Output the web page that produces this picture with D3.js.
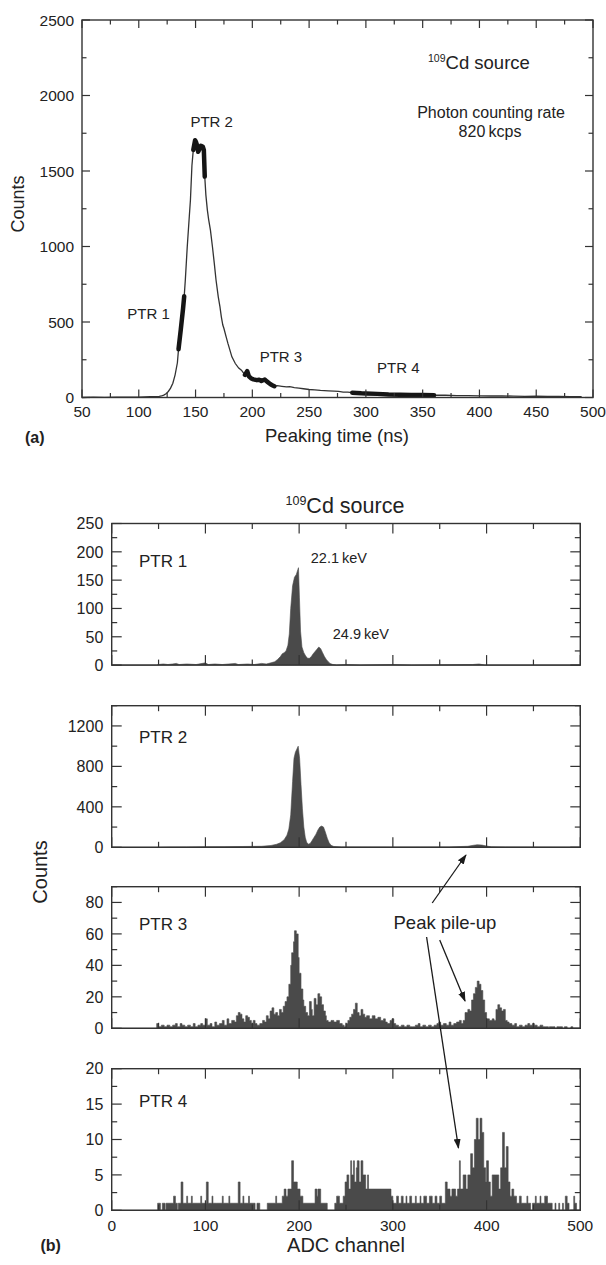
<!DOCTYPE html>
<html>
<head>
<meta charset="utf-8">
<script src="https://cdn.jsdelivr.net/npm/d3@7"></script>
<style>
  html, body { margin: 0; padding: 0; background: #fff; }
  svg { display: block; }
  text { font-family: "Liberation Sans", Arial, Helvetica, sans-serif; fill: #222; }
</style>
</head>
<body>
<svg id="fig" width="606" height="1265"></svg>
<script>
// ---------- (a) peaking-time distribution ----------
const peakTime = [50,60,70,80,90,100,105,110,115,118,120,122,124,126,128,130,132,134,135,137,139,140,141,142.7,144.5,145.5,146.8,148,149.6,150.5,151.3,152.3,153.5,154.7,156.4,157.3,158.1,159.1,160.4,161.5,163.1,165,166.5,168,170,171.5,172.7,174,175,177,178.5,180,182,185,188,190.4,192,193.5,195.5,197,199,201,204,206,208,211,213,216,218,219.4,222,226,230,233,237,241,245,250,255,260,267,272,276,280,284,288,292,296,300,310,320,330,340,350,360,370,380,390,400,410,420,430,440,450,460,470,480,490,500];
const peakCounts = [0,2,1,3,2,3,4,5,6,8,10,16,25,40,62,95,150,230,320,450,590,670,780,1000,1200,1310,1535,1640,1704,1690,1671,1627,1645,1667,1660,1640,1463,1340,1241,1180,1108,990,888,780,667,600,534,480,457,400,358,320,269,225,195,181,165,150,175,140,126,120,115,118,110,119,105,88,80,75,78,74,70,72,66,62,58,53,50,47,44,42,40,36,35,32,30,28,27,24,20,18,17,16,15,15,13,12,11,10,11,9,8,9,7,8,6,5];
// thick segments marking the four peaking-time ranges
const ptrRanges = [[135, 140], [147, 158.1], [193, 219.4], [288, 360]];
const ptrLabelsA = ["PTR 1", "PTR 2", "PTR 3", "PTR 4"];
const timeTicks = [50,100,150,200,250,300,350,400,450,500];
const countTicksA = [0,500,1000,1500,2000,2500];

// ---------- (b) pulse-height spectra, [ADC channel, counts] ----------
const spectrumPTR1 = [[0,0],[48,0],[50,1],[55,2],[60,1],[65,2],[69,3],[72,1],[80,2],[90,1],[100,4],[103,1],[110,2],[118,1],[125,2],[132,3],[135,1],[145,2],[152,1],[160,3],[165,2],[170,4],[174,6],[177,10],[180,15],[182,20],[184,22],[186,25],[188,35],[189.5,55],[191,100],[193,140],[195,155],[197,160],[198.5,168],[199.3,172],[200.3,120],[201.5,60],[203,32],[205,22],[207,16],[209,12],[211,12],[213,15],[215,20],[217,24],[219,28],[221,32],[223,29],[225,22],[227,15],[229,10],[231,6],[233,3],[236,1],[240,0],[250,1],[265,0],[300,1],[320,0],[385,1],[392,2],[398,0],[500,0]];
const spectrumPTR2 = [[0,0],[48,0],[60,3],[80,4],[100,5],[120,6],[140,8],[160,10],[170,18],[176,30],[180,45],[184,75],[187,120],[189,180],[191,320],[193,650],[194.5,880],[196,940],[197.5,970],[199,1000],[200.5,880],[202,620],[203.5,380],[205,200],[206.5,100],[208,50],[210,30],[212,40],[214,70],[216,100],[218,130],[220,170],[222,200],[224,210],[226,200],[228,150],[230,90],[232,45],[234,20],[237,8],[245,4],[300,3],[360,4],[380,10],[386,20],[390,25],[395,22],[400,12],[405,5],[420,4],[500,2]];
const spectrumPTR3 = [[0,0],[48,3],[50,1],[53,2],[56,1],[59,2],[62,1],[65,2],[68,3],[70,1],[73,3],[75,2],[78,1],[81,2],[84,1],[87,3],[89,1],[92,2],[95,3],[97,2],[100,6],[102,2],[105,3],[107,1],[110,4],[112,2],[115,3],[118,5],[120,2],[123,6],[125,3],[128,5],[131,4],[133,8],[135,10],[137,9],[139,6],[141,4],[143,8],[145,7],[147,5],[149,3],[151,5],[153,3],[155,2],[158,3],[161,5],[163,4],[165,8],[167,6],[169,11],[171,13],[173,9],[175,10],[177,8],[179,12],[181,10],[183,14],[185,17],[187,20],[189,28],[191,40],[192,48],[194,55],[195,62],[197,60],[199,45],[200,35],[202,25],[204,18],[205,14],[207,10],[209,8],[211,17],[213,12],[214,8],[216,19],[218,15],[220,22],[222,20],[224,15],[226,11],[228,8],[229,5],[231,4],[234,5],[237,4],[240,5],[243,3],[246,2],[248,1],[250,3],[252,5],[254,7],[256,9],[258,12],[260,16],[262,10],[264,8],[266,12],[268,9],[270,7],[272,8],[275,6],[278,8],[281,6],[284,7],[287,5],[290,6],[292,4],[294,3],[297,5],[299,6],[301,3],[303,2],[306,1],[309,2],[312,1],[315,2],[318,1],[321,1],[324,2],[327,3],[329,1],[332,2],[335,1],[338,2],[341,1],[344,2],[347,3],[349,4],[351,2],[354,3],[357,2],[360,4],[362,2],[365,3],[368,4],[371,5],[373,3],[375,5],[377,10],[380,12],[382,11],[384,18],[386,22],[388,26],[390,30],[392,28],[394,24],[396,18],[398,10],[400,6],[403,5],[406,6],[408,5],[410,12],[412,15],[414,13],[416,11],[418,12],[420,5],[422,4],[424,3],[427,2],[430,3],[432,1],[435,2],[438,1],[441,2],[444,3],[446,2],[449,3],[451,2],[454,1],[457,2],[460,1],[463,1],[466,0],[467,1],[470,1],[473,0],[475,1],[478,1],[481,0],[483,1],[486,0],[490,1],[492,0],[500,0]];
const spectrumPTR4 = [[0,0],[49,1],[52,0],[54,1],[57,0],[58,1],[66,2],[68,1],[70,0],[71,1],[74,4],[76,1],[80,2],[81,1],[85,2],[86,1],[90,1],[95,2],[96,1],[101,4],[103,1],[107,2],[108,1],[112,1],[118,2],[119,1],[125,2],[126,1],[130,1],[135,4],[137,1],[140,2],[141,1],[146,2],[147,1],[153,0],[155,1],[158,0],[166,1],[175,2],[176,1],[182,2],[184,3],[186,2],[188,3],[192,7],[194,4],[198,3],[201,2],[204,1],[212,1],[217,3],[219,2],[220,3],[223,1],[228,1],[230,0],[238,1],[240,2],[243,1],[247,2],[249,4],[251,5],[253,3],[255,7],[256,5],[258,7],[259,4],[261,6],[262,7],[264,4],[266,7],[268,5],[271,3],[273,5],[274,3],[280,3],[298,2],[300,1],[304,2],[306,1],[309,2],[311,1],[314,2],[315,1],[318,2],[320,1],[324,2],[325,1],[329,2],[330,1],[333,2],[336,1],[339,2],[342,1],[345,2],[347,1],[350,2],[352,1],[356,4],[358,3],[361,2],[363,3],[367,2],[369,3],[371,7],[372,3],[375,5],[378,3],[380,5],[383,8],[385,6],[387,10],[389,13],[391,10],[393,13],[395,11],[397,6],[399,4],[400,7],[402,4],[404,2],[406,5],[410,5],[413,3],[415,6],[417,11],[419,6],[421,9],[423,4],[425,2],[427,3],[429,2],[432,1],[435,2],[437,1],[440,1],[443,2],[444,1],[447,0],[449,1],[452,2],[453,1],[457,2],[458,1],[462,2],[465,1],[470,0],[473,1],[474,0],[477,1],[478,0],[481,1],[482,0],[484,2],[486,1],[488,0],[493,2],[494,1],[496,0],[500,0]];
const adcTicks = [0,100,200,300,400,500];
const panelNames = ["PTR 1", "PTR 2", "PTR 3", "PTR 4"];
const panelMax = [250, 1400, 90, 20];
const panelLabelTicks = [[0,50,100,150,200,250],[0,400,800,1200],[0,20,40,60,80],[0,5,10,15,20]];
const panelMinorStep = [25, 200, 10, 2.5];
const peakEnergies = ["22.1 keV", "24.9 keV"];

// ---------- drawing ----------
const svg = d3.select("#fig");
const AX = "#333";

function frameTicks(g, x, y, xMajor, xMinor, yMajor, yMinor, majLen, minLen) {
  const [x0, x1] = x.range();
  const [y0, y1] = y.range(); // y0 bottom, y1 top
  const tk = g.append("g").attr("stroke", AX).attr("stroke-width", 1.2);
  const vt = (v, len) => {
    tk.append("line").attr("x1", x(v)).attr("x2", x(v)).attr("y1", y0).attr("y2", y0 - len);
    tk.append("line").attr("x1", x(v)).attr("x2", x(v)).attr("y1", y1).attr("y2", y1 + len);
  };
  const ht = (v, len) => {
    tk.append("line").attr("y1", y(v)).attr("y2", y(v)).attr("x1", x0).attr("x2", x0 + len);
    tk.append("line").attr("y1", y(v)).attr("y2", y(v)).attr("x1", x1).attr("x2", x1 - len);
  };
  xMinor.forEach(v => vt(v, minLen));
  xMajor.forEach(v => vt(v, majLen));
  yMinor.forEach(v => ht(v, minLen));
  yMajor.forEach(v => ht(v, majLen));
  g.append("rect").attr("x", x0).attr("y", y1).attr("width", x1 - x0).attr("height", y0 - y1)
    .attr("fill", "none").attr("stroke", AX).attr("stroke-width", 1.4);
}

// ----- panel (a)
{
  const x = d3.scaleLinear().domain([50, 500]).range([82, 593]);
  const y = d3.scaleLinear().domain([0, 2500]).range([397.5, 20]);
  const g = svg.append("g");
  const pts = peakTime.map((t, i) => [t, peakCounts[i]]);
  const line = d3.line().x(d => x(d[0])).y(d => y(d[1]));

  g.append("path").datum(pts).attr("d", line)
    .attr("fill", "none").attr("stroke", "#333").attr("stroke-width", 1.3);

  ptrRanges.forEach(([a, b]) => {
    const seg = pts.filter(d => d[0] >= a && d[0] <= b);
    g.append("path").datum(seg).attr("d", line)
      .attr("fill", "none").attr("stroke", "#151515").attr("stroke-width", 4.5)
      .attr("stroke-linecap", "round").attr("stroke-linejoin", "round");
  });

  const minorX = d3.range(75, 500, 50);
  const minorY = d3.range(250, 2500, 500);
  frameTicks(g, x, y, timeTicks, minorX, countTicksA, minorY, 8, 4.5);

  g.selectAll(".xl").data(timeTicks).join("text")
    .attr("x", d => x(d)).attr("y", 416.5).attr("text-anchor", "middle")
    .attr("font-size", 15.5).text(d => d);
  g.selectAll(".yl").data(countTicksA).join("text")
    .attr("x", 74).attr("y", d => y(d)).attr("dy", "0.36em").attr("text-anchor", "end")
    .attr("font-size", 15.5).text(d => d);

  g.append("text").attr("x", 337).attr("y", 442).attr("text-anchor", "middle")
    .attr("font-size", 18.5).text("Peaking time (ns)");
  g.append("text").attr("transform", "translate(24,204) rotate(-90)").attr("text-anchor", "middle")
    .attr("font-size", 18).text("Counts");
  g.append("text").attr("x", 25).attr("y", 443).attr("font-size", 16).attr("font-weight", "bold").text("(a)");

  const lab = [[127.3, 318.8], [190.4, 126.5], [259.7, 361.6], [377, 373.3]];
  ptrLabelsA.forEach((s, i) => g.append("text").attr("x", lab[i][0]).attr("y", lab[i][1])
    .attr("font-size", 15).text(s));

  const t1 = g.append("text").attr("x", 428).attr("y", 69).attr("font-size", 18.5);
  t1.append("tspan").attr("font-size", 10.5).attr("dy", -7.5).text("109");
  t1.append("tspan").attr("dy", 7.5).text("Cd source");
  g.append("text").attr("x", 491).attr("y", 118).attr("text-anchor", "middle").attr("font-size", 16)
    .text("Photon counting rate");
  g.append("text").attr("x", 490).attr("y", 136.7).attr("text-anchor", "middle").attr("font-size", 16)
    .text("820\u2009kcps");
}

// ----- panel (b)
{
  const x = d3.scaleLinear().domain([0, 500]).range([111.7, 580.3]);
  const tops = [523.5, 705.7, 886.7, 1068.7];
  const H = 141.6;
  const spectra = [spectrumPTR1, spectrumPTR2, spectrumPTR3, spectrumPTR4];
  const curves = [d3.curveLinear, d3.curveLinear, d3.curveStepAfter, d3.curveStepAfter];
  const labelBase = [567.3, 743.3, 930, 1106.7];

  spectra.forEach((data, i) => {
    const y = d3.scaleLinear().domain([0, panelMax[i]]).range([tops[i] + H, tops[i]]);
    const g = svg.append("g");
    const area = d3.area().curve(curves[i]).x(d => x(d[0])).y0(y(0)).y1(d => y(d[1]));
    g.append("path").datum(data).attr("d", area).attr("fill", "#4a4a4a")
      .attr("stroke", "#4a4a4a").attr("stroke-width", 0.6);

    const minorY = d3.range(0, panelMax[i] + 0.001, panelMinorStep[i]).filter(v => !panelLabelTicks[i].includes(v));
    frameTicks(g, x, y, adcTicks, d3.range(50, 500, 100), panelLabelTicks[i], minorY, 10, 5.5);

    g.selectAll(".yl").data(panelLabelTicks[i]).join("text")
      .attr("x", 103.3).attr("y", d => y(d)).attr("dy", "0.36em").attr("text-anchor", "end")
      .attr("font-size", 16).text(d => d);
    g.append("text").attr("x", 139).attr("y", labelBase[i]).attr("font-size", 17).text(panelNames[i]);
  });

  svg.selectAll(".adc").data(adcTicks).join("text")
    .attr("x", d => x(d)).attr("y", 1230.7).attr("text-anchor", "middle")
    .attr("font-size", 15.5).text(d => d);
  svg.append("text").attr("x", 346).attr("y", 1251.5).attr("text-anchor", "middle")
    .attr("font-size", 20).text("ADC channel");
  svg.append("text").attr("transform", "translate(47,872) rotate(-90)").attr("text-anchor", "middle")
    .attr("font-size", 20).text("Counts");
  svg.append("text").attr("x", 40.5).attr("y", 1251).attr("font-size", 16).attr("font-weight", "bold").text("(b)");

  const t2 = svg.append("text").attr("x", 285.5).attr("y", 513.3).attr("font-size", 21.5);
  t2.append("tspan").attr("font-size", 12.5).attr("dy", -8.5).text("109");
  t2.append("tspan").attr("dy", 8.5).text("Cd source");

  svg.append("text").attr("x", 310.8).attr("y", 562.7).attr("font-size", 14.5).text(peakEnergies[0].replace(" ", "\u2009"));
  svg.append("text").attr("x", 332.8).attr("y", 639.3).attr("font-size", 14.5).text(peakEnergies[1].replace(" ", "\u2009"));

  // pile-up annotation with three arrows
  svg.append("text").attr("x", 393.5).attr("y", 929).attr("font-size", 18.5).text("Peak pile-up");
  const defs = svg.append("defs");
  defs.append("marker").attr("id", "ah").attr("viewBox", "0 0 10 10").attr("refX", 9).attr("refY", 5)
    .attr("markerWidth", 10).attr("markerHeight", 10).attr("markerUnits", "userSpaceOnUse")
    .attr("orient", "auto")
    .append("path").attr("d", "M0,1.5 L10,5 L0,8.5 Z").attr("fill", "#1a1a1a");
  const arrows = [
    [[x(342), 903], [x(378), 855]],
    [[x(350), 940], [x(377), 1001]],
    [[x(336), 937], [x(370), 1148]]
  ];
  arrows.forEach(([a, b]) => svg.append("line").attr("x1", a[0]).attr("y1", a[1]).attr("x2", b[0]).attr("y2", b[1])
    .attr("stroke", "#1a1a1a").attr("stroke-width", 1.3).attr("marker-end", "url(#ah)"));
}
</script>
</body>
</html>
